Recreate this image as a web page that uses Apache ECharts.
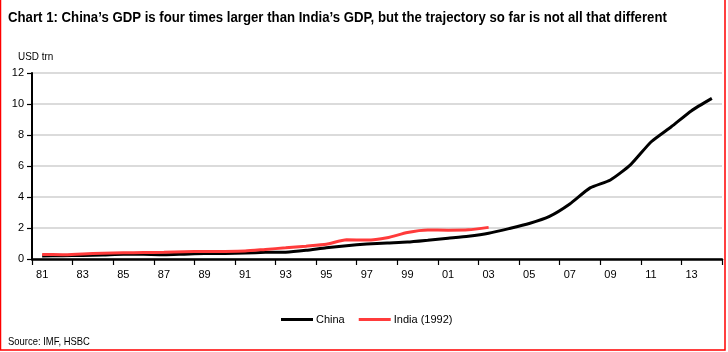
<!DOCTYPE html>
<html>
<head>
<meta charset="utf-8">
<script src="https://cdn.jsdelivr.net/npm/echarts@6/dist/echarts.min.js"></script>
<style>
  html, body { margin: 0; padding: 0; background: #fff; }
  #chart { width: 728px; height: 352px; }
</style>
</head>
<body>
<div id="chart"></div>
<script>
const years = ['81','82','83','84','85','86','87','88','89','90','91','92','93','94','95','96','97','98','99','00',
  '01','02','03','04','05','06','07','08','09','10','11','12','13','14'];

// USD trn
const china = [0.20,0.21,0.23,0.26,0.31,0.30,0.27,0.31,0.35,0.36,0.38,0.43,0.44,0.56,0.73,0.86,0.96,1.03,1.09,1.21,
  1.34,1.47,1.66,1.96,2.29,2.75,3.55,4.59,5.10,6.09,7.55,8.53,9.57,10.36];

// India from 1992, shifted onto China's timeline
const india = [0.29,0.28,0.33,0.37,0.40,0.42,0.43,0.47,0.48,0.49,0.52,0.62,0.72,0.83,0.95,1.24,1.22,1.37,1.71,1.87,
  1.86,1.88,2.04];

const font = "'Liberation Sans', Arial, sans-serif";

const chart = echarts.init(document.getElementById('chart'));

const option = {
  animation: false,
  textStyle: { fontFamily: font },
  graphic: [
    {
      type: 'text', x: 8, y: 10, scaleX: 0.88,
      style: {
        text: 'Chart 1: China\u2019s GDP is four times larger than India\u2019s GDP, but the trajectory so far is not all that different',
        fontSize: 15, fontWeight: 'bold', fill: '#000', fontFamily: font
      }
    },
    { type: 'text', x: 18, y: 51, scaleX: 0.9, style: { text: 'USD trn', fontSize: 11, fill: '#000', fontFamily: font } },
    { type: 'text', x: 8, y: 337, scaleX: 0.9, style: { text: 'Source: IMF, HSBC', fontSize: 10.5, fill: '#000', fontFamily: font } },
    { type: 'rect', shape: { x: 0.5, y: -5, width: 724.5, height: 355 }, style: { fill: 'none', stroke: '#ff0000', lineWidth: 1.5 } }
  ],
  legend: {
    left: 276,
    top: 309,
    icon: 'rect',
    itemWidth: 32,
    itemHeight: 3,
    itemGap: 14,
    textStyle: { fontSize: 11, color: '#000', fontFamily: font, padding: [0, 0, 0, -2] },
    data: ['China', 'India (1992)']
  },
  grid: { left: 32, right: 6, top: 73, bottom: 93 },
  xAxis: {
    type: 'category',
    data: years,
    boundaryGap: true,
    axisLine: { show: true, onZero: false, lineStyle: { color: '#000', width: 2.5 } },
    axisTick: { show: true, inside: false, interval: (i) => i % 2 === 0, length: 6, lineStyle: { color: '#000', width: 1.2 } },
    axisLabel: { interval: 1, fontSize: 11, color: '#000', margin: 10 }
  },
  yAxis: {
    type: 'value',
    min: 0,
    max: 12,
    interval: 2,
    axisLine: { show: true, lineStyle: { color: '#000', width: 2 } },
    axisTick: { show: true, inside: false, length: 5, lineStyle: { color: '#000', width: 1.2 } },
    axisLabel: { fontSize: 11, color: '#000', margin: 8 },
    splitLine: { lineStyle: { color: '#cfcfcf', width: 1.5 } }
  },
  series: [
    {
      name: 'China',
      type: 'line',
      data: china,
      symbol: 'none',
      smooth: 0.2,
      lineStyle: { color: '#000', width: 3 },
      itemStyle: { color: '#000' }
    },
    {
      name: 'India (1992)',
      type: 'line',
      data: india,
      symbol: 'none',
      smooth: 0.2,
      lineStyle: { color: '#ff3b3b', width: 3 },
      itemStyle: { color: '#ff3b3b' }
    }
  ]
};

chart.setOption(option);
</script>
</body>
</html>
